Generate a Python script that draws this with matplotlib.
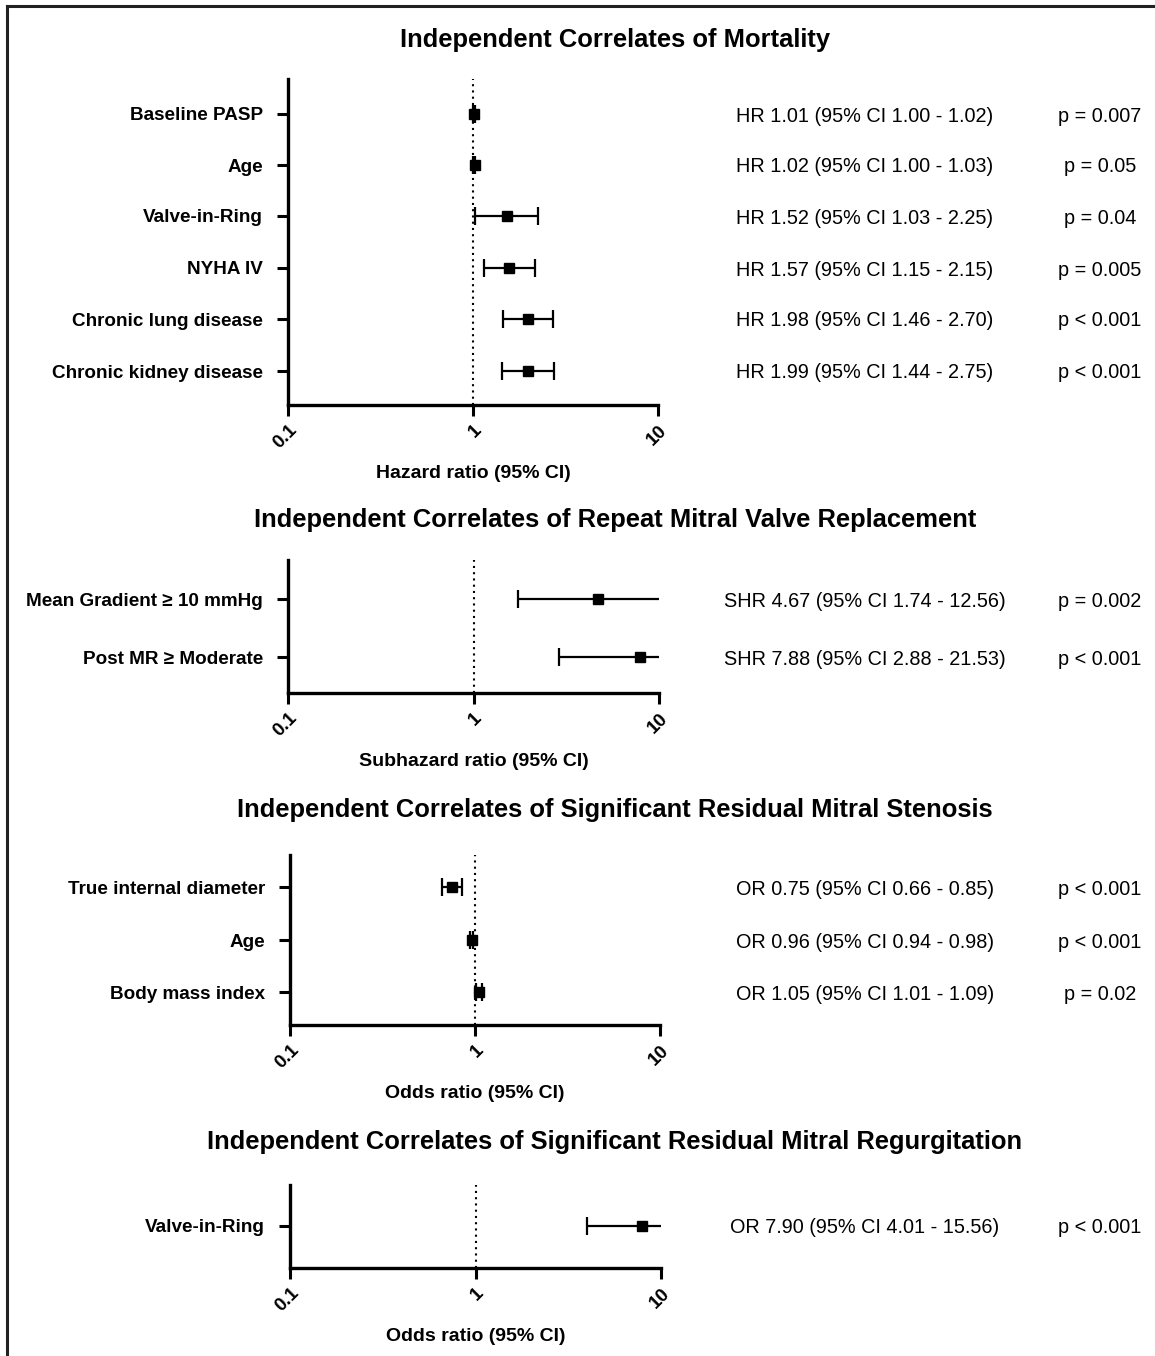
import matplotlib
matplotlib.use('Agg')
import matplotlib.pyplot as plt
import matplotlib.transforms as mtransforms
from matplotlib.lines import Line2D

plt.rcParams['font.family'] = ['Liberation Sans', 'DejaVu Sans']

# ---- data ----
mort_labels = ['Baseline PASP', 'Age', 'Valve-in-Ring', 'NYHA IV',
               'Chronic lung disease', 'Chronic kidney disease']
mort_est = [1.01, 1.02, 1.52, 1.57, 1.98, 1.99]
mort_lo = [1.00, 1.00, 1.03, 1.15, 1.46, 1.44]
mort_hi = [1.02, 1.03, 2.25, 2.15, 2.70, 2.75]
mort_p = ['p = 0.007', 'p = 0.05', 'p = 0.04', 'p = 0.005', 'p < 0.001', 'p < 0.001']

mvr_labels = ['Mean Gradient \u2265 10 mmHg', 'Post MR \u2265 Moderate']
mvr_est = [4.67, 7.88]
mvr_lo = [1.74, 2.88]
mvr_hi = [12.56, 21.53]
mvr_p = ['p = 0.002', 'p < 0.001']

ms_labels = ['True internal diameter', 'Age', 'Body mass index']
ms_est = [0.75, 0.96, 1.05]
ms_lo = [0.66, 0.94, 1.01]
ms_hi = [0.85, 0.98, 1.09]
ms_p = ['p < 0.001', 'p < 0.001', 'p = 0.02']

mr_labels = ['Valve-in-Ring']
mr_est = [7.90]
mr_lo = [4.01]
mr_hi = [15.56]
mr_p = ['p < 0.001']

W, H = 1155, 1356
fig = plt.figure(figsize=(W / 100, H / 100), dpi=100)


def fx(px):
    return px / W


def fy(py):
    return 1 - py / H


def forest(title, title_y, labels, est, lo, hi, pvals, prefix, xlabel,
           x0, x1, top, bottom, rows_y):
    ax = fig.add_axes([fx(x0), fy(bottom), fx(x1 - x0), (bottom - top) / H])
    n = len(labels)
    # y data = pixel position of rows (inverted)
    ax.set_ylim(bottom, top)
    ax.set_xscale('log')
    ax.set_xlim(0.1, 10)
    err = [[e - l for e, l in zip(est, lo)], [h - e for e, h in zip(est, hi)]]
    ax.errorbar(est, rows_y, xerr=err, fmt='s', color='black', ms=7,
                elinewidth=1.6, capsize=6.5, capthick=1.6, zorder=3)
    ax.axvline(1, color='black', ls=(0, (1, 2)), lw=1.5, zorder=1)
    ax.set_yticks(rows_y)
    ax.set_yticklabels(labels, fontsize=13.6, fontweight='bold')
    ax.set_xticks([0.1, 1, 10])
    ax.set_xticklabels(['0.1', '1', '10'], rotation=45, ha='right',
                       rotation_mode='anchor', fontsize=13.5, fontweight='bold')
    ax.minorticks_off()
    ax.tick_params(axis='x', length=8, width=2.2, pad=4)
    ax.tick_params(axis='y', length=8, width=2.2, pad=10)
    for s in ['top', 'right']:
        ax.spines[s].set_visible(False)
    for s in ['left', 'bottom']:
        ax.spines[s].set_linewidth(2.4)
    ax.set_xlabel(xlabel, fontsize=14, fontweight='bold', labelpad=9)
    trans = mtransforms.blended_transform_factory(fig.transFigure, ax.transData)
    for i in range(n):
        txt = '%s %.2f (95%% CI %.2f - %.2f)' % (prefix, est[i], lo[i], hi[i])
        ax.text(fx(865), rows_y[i], txt, transform=trans, ha='center',
                va='center_baseline', fontsize=14.3)
        ax.text(fx(1100), rows_y[i], pvals[i], transform=trans, ha='center',
                va='center_baseline', fontsize=14.3)
    fig.text(fx(615), fy(title_y), title, ha='center', va='center_baseline',
             fontsize=18.4, fontweight='bold')
    return ax


forest('Independent Correlates of Mortality', 37, mort_labels, mort_est,
       mort_lo, mort_hi, mort_p, 'HR', 'Hazard ratio (95% CI)',
       288, 658, 79, 405, [114, 165, 216, 268, 319, 371])
forest('Independent Correlates of Repeat Mitral Valve Replacement', 518,
       mvr_labels, mvr_est, mvr_lo, mvr_hi, mvr_p, 'SHR',
       'Subhazard ratio (95% CI)', 288, 659, 560, 693, [599, 657])
forest('Independent Correlates of Significant Residual Mitral Stenosis', 808,
       ms_labels, ms_est, ms_lo, ms_hi, ms_p, 'OR', 'Odds ratio (95% CI)',
       290, 660, 855, 1025, [887, 940, 992])
forest('Independent Correlates of Significant Residual Mitral Regurgitation',
       1140, mr_labels, mr_est, mr_lo, mr_hi, mr_p, 'OR',
       'Odds ratio (95% CI)', 290, 661, 1185, 1268, [1226])

# outer frame (left and top only)
fig.add_artist(Line2D([fx(7), fx(7)], [fy(6), 0], color='#222222', lw=2.2,
                      transform=fig.transFigure))
fig.add_artist(Line2D([fx(7), 1], [fy(6), fy(6)], color='#222222', lw=2.2,
                      transform=fig.transFigure))

fig.savefig('out.png', dpi=100, facecolor='white')
